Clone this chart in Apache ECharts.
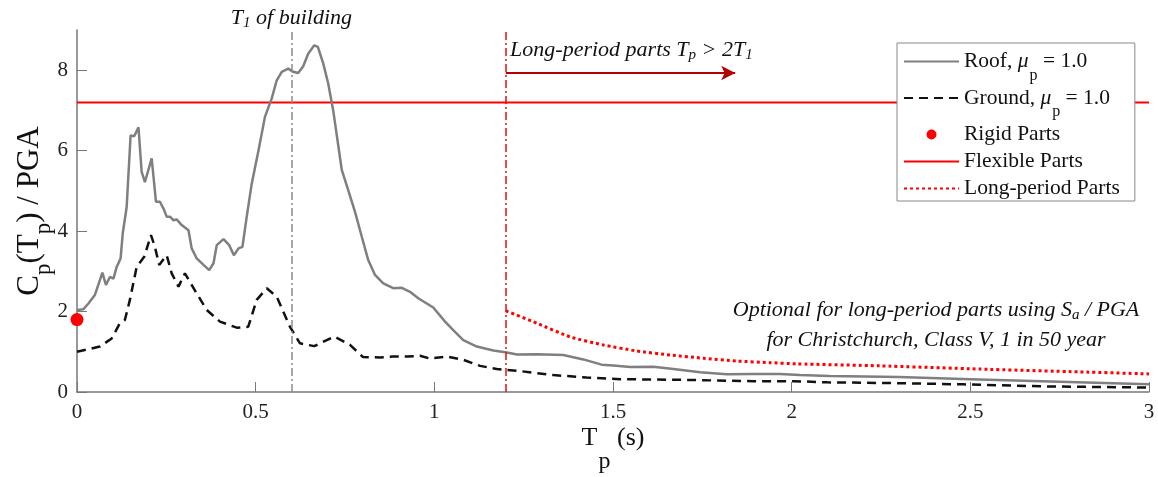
<!DOCTYPE html>
<html>
<head>
<meta charset="utf-8">
<script src="https://cdn.jsdelivr.net/npm/echarts@6/dist/echarts.min.js"></script>
<style>
  html, body { margin: 0; padding: 0; background: #fff; }
  #chart { width: 1158px; height: 477px; }
</style>
</head>
<body>
<div id="chart"></div>
<script>
// Part spectral coefficient C_p(T_p)/PGA versus part period T_p (s)

const roofT = [0, 0.018, 0.032, 0.05, 0.071, 0.081, 0.092, 0.102, 0.111, 0.122, 0.128, 0.139,
  0.150, 0.160, 0.172, 0.181, 0.190, 0.209, 0.221, 0.232, 0.242, 0.251, 0.26, 0.27, 0.279,
  0.293, 0.312, 0.321, 0.335, 0.354, 0.370, 0.382, 0.391, 0.41, 0.426, 0.439, 0.452, 0.463,
  0.475, 0.489, 0.508, 0.526, 0.545, 0.559, 0.573, 0.591, 0.605, 0.619, 0.633, 0.647, 0.664,
  0.674, 0.689, 0.703, 0.717, 0.729, 0.741, 0.759, 0.778, 0.797, 0.815, 0.834, 0.857, 0.885,
  0.909, 0.932, 0.955, 0.997, 1.03, 1.053, 1.081, 1.119, 1.165, 1.203, 1.231, 1.287, 1.361,
  1.417, 1.468, 1.501, 1.548, 1.613, 1.669, 1.744, 1.818, 1.893, 1.967, 2.023, 2.107, 2.3,
  2.5, 2.7, 2.85, 3.0];
const roofC = [2.04, 2.06, 2.2, 2.41, 2.97, 2.66, 2.86, 2.82, 3.11, 3.32, 3.94, 4.6,
  6.38, 6.36, 6.58, 5.47, 5.22, 5.81, 4.73, 4.73, 4.56, 4.36, 4.36, 4.27, 4.29,
  4.15, 4.02, 3.57, 3.32, 3.16, 3.03, 3.2, 3.65, 3.8, 3.65, 3.4, 3.57, 3.61,
  4.36, 5.18, 6.01, 6.84, 7.3, 7.75, 7.96, 8.04, 7.96, 7.93, 8.1, 8.41, 8.62,
  8.58, 8.17, 7.67, 7.0, 6.26, 5.52, 5.02, 4.48, 3.86, 3.28, 2.91, 2.7, 2.58,
  2.59, 2.49, 2.33, 2.1, 1.75, 1.54, 1.29, 1.13, 1.03, 0.98, 0.93, 0.94, 0.92,
  0.81, 0.68, 0.66, 0.62, 0.63, 0.57, 0.49, 0.44, 0.45, 0.45, 0.42, 0.4, 0.37,
  0.32, 0.27, 0.23, 0.19];

const groundT = [0, 0.064, 0.097, 0.12, 0.134, 0.148, 0.167, 0.188, 0.207, 0.218, 0.23, 0.251,
  0.265, 0.284, 0.302, 0.316, 0.335, 0.363, 0.40, 0.447, 0.479, 0.503, 0.531, 0.559, 0.596,
  0.624, 0.664, 0.72, 0.764, 0.8, 0.848, 0.885, 0.923, 0.96, 0.988, 1.035, 1.081, 1.128,
  1.175, 1.24, 1.333, 1.426, 1.52, 1.706, 1.893, 2.005, 2.1, 2.3, 2.48, 2.7, 3.0];
const groundC = [1.0, 1.13, 1.33, 1.71, 1.79, 2.29, 3.11, 3.36, 3.9, 3.61, 3.16, 3.4,
  2.95, 2.62, 2.95, 2.74, 2.45, 2.04, 1.75, 1.6, 1.62, 2.29, 2.58, 2.37, 1.62,
  1.21, 1.14, 1.38, 1.17, 0.87, 0.86, 0.88, 0.88, 0.9, 0.83, 0.88, 0.8, 0.65,
  0.57, 0.52, 0.42, 0.36, 0.32, 0.3, 0.27, 0.27, 0.24, 0.22, 0.19, 0.14, 0.11];

const longT = [1.2, 1.287, 1.38, 1.473, 1.566, 1.66, 1.753, 1.846, 1.94, 2.014, 2.247, 2.527, 2.807, 3.0];
const longC = [2.02, 1.71, 1.37, 1.17, 1.02, 0.92, 0.84, 0.77, 0.73, 0.70, 0.65, 0.57, 0.5, 0.45];

const rigidT = [0];
const rigidC = [1.8];
const flexibleT = [0, 3];
const flexibleC = [7.2, 7.2];

const buildingT1 = 0.6;          // fundamental period of the building
const longPeriodStart = 1.2;     // 2 T1
const arrowEndT = 1.842;
const arrowC = 7.93;

const xTicks = [0, 0.5, 1, 1.5, 2, 2.5, 3];
const yTicks = [0, 2, 4, 6, 8];

const SERIF = "'Liberation Serif', 'Times New Roman', serif";
const zip = (a, b) => a.map((v, i) => [v, b[i]]);

const chart = echarts.init(document.getElementById('chart'), null, { renderer: 'canvas' });

const legendLabels = {
  'Roof': '{n|Roof, }{m|\u03bc}{s|p}{n| = 1.0}',
  'Ground': '{n|Ground, }{m|\u03bc}{s|p}{n| = 1.0}'
};

chart.setOption({
  animation: false,
  backgroundColor: '#fff',
  grid: { left: 77, right: 9, top: 30, bottom: 85, containLabel: false, outerBoundsMode: 'none' },
  xAxis: {
    type: 'value', min: 0, max: 3, interval: 0.5,
    name: '{b|T}{s|p}{b| (s)}',
    nameLocation: 'middle', nameGap: 10, nameMoveOverlap: false,
    nameTextStyle: {
      rich: {
        b: { fontFamily: SERIF, fontSize: 26, color: '#111' },
        s: { fontFamily: SERIF, fontSize: 24, color: '#111', padding: [48, 0, 0, 1] }
      }
    },
    axisLine: { lineStyle: { color: '#777', width: 1.5 } },
    axisTick: { inside: true, length: 10, lineStyle: { color: '#777', width: 1 }, customValues: xTicks },
    axisLabel: { customValues: xTicks, margin: 10, fontFamily: SERIF, fontSize: 21, color: '#222' },
    splitLine: { show: false }
  },
  yAxis: {
    type: 'value', min: 0, max: 9, interval: 2,
    name: '{b|C}{s|p}{b|(T}{s|p}{b|) / PGA}',
    nameLocation: 'middle', nameGap: 22, nameMoveOverlap: false,
    nameTextStyle: {
      rich: {
        b: { fontFamily: SERIF, fontSize: 31, color: '#111' },
        s: { fontFamily: SERIF, fontSize: 23, color: '#111', padding: [28, 0, 0, 0] }
      }
    },
    axisLine: { show: true, lineStyle: { color: '#777', width: 1.5 } },
    axisTick: { show: true, inside: true, length: 10, lineStyle: { color: '#777', width: 1 }, customValues: yTicks },
    axisLabel: { customValues: yTicks, margin: 9, fontFamily: SERIF, fontSize: 21, color: '#222' },
    splitLine: { show: false }
  },
  legend: {
    orient: 'vertical',
    left: 897, top: 43,
    padding: [6, 15, 0, 6],
    itemWidth: 55, itemHeight: 10, itemGap: 2,
    selectedMode: false,
    backgroundColor: '#fff',
    borderColor: '#888', borderWidth: 1, borderRadius: 0,
    data: [
      { name: 'Roof', itemStyle: { opacity: 0 } },
      { name: 'Ground', itemStyle: { opacity: 0 } },
      { name: 'Rigid Parts', icon: 'circle' },
      { name: 'Flexible Parts', itemStyle: { opacity: 0 } },
      { name: 'Long-period Parts', itemStyle: { opacity: 0 } }
    ],
    formatter: name => legendLabels[name] || name,
    textStyle: {
      fontFamily: SERIF, fontSize: 21.5, color: '#111', lineHeight: 25,
      rich: {
        n: { fontFamily: SERIF, fontSize: 21.5, color: '#111' },
        m: { fontFamily: SERIF, fontSize: 21.5, fontStyle: 'italic', color: '#111' },
        s: { fontFamily: SERIF, fontSize: 16, color: '#111', padding: [28, 0, 0, 1] }
      }
    },
    z: 10
  },
  series: [
    {
      name: 'Roof', type: 'line', data: zip(roofT, roofC),
      symbol: 'none', color: '#7f7f7f',
      lineStyle: { color: '#7f7f7f', width: 2.5 }, z: 3
    },
    {
      name: 'Ground', type: 'line', data: zip(groundT, groundC),
      symbol: 'none', color: '#111',
      lineStyle: { color: '#111', width: 2.5, type: [9, 6] }, z: 3
    },
    {
      name: 'Rigid Parts', type: 'scatter', data: zip(rigidT, rigidC),
      symbol: 'circle', symbolSize: 13, clip: false,
      itemStyle: { color: '#ff0000', opacity: 1 }, z: 5
    },
    {
      name: 'Flexible Parts', type: 'line', data: zip(flexibleT, flexibleC),
      symbol: 'none', color: '#ff0000',
      lineStyle: { color: '#ff0000', width: 2 }, z: 2
    },
    {
      name: 'Long-period Parts', type: 'line', data: zip(longT, longC),
      symbol: 'none', color: '#ff0000', smooth: 0.2,
      lineStyle: { color: '#ff0000', width: 3, type: [3, 3] }, z: 2
    },
    {
      // period guide lines: T1 of the building and the 2 T1 threshold
      name: 'guides', type: 'line', data: [], silent: true,
      markLine: {
        silent: true, symbol: 'none', label: { show: false },
        data: [
          { xAxis: buildingT1, lineStyle: { color: '#8a8a8a', width: 1.5, type: [8, 3, 2, 3] } },
          { xAxis: longPeriodStart, lineStyle: { color: '#e01010', width: 1.5, type: [8, 3, 2, 3] } }
        ]
      },
      z: 1
    },
    {
      // arrow marking the long-period range
      name: 'arrow', type: 'line', data: [], silent: true,
      markLine: {
        silent: true, symbol: ['none', 'arrow'], symbolSize: [11, 14],
        label: { show: false },
        lineStyle: { color: '#b30000', width: 2, type: 'solid' },
        data: [[{ coord: [longPeriodStart, arrowC] }, { coord: [arrowEndT, arrowC] }]]
      },
      z: 4
    }
  ]
});

// Text notes anchored to data coordinates
const notes = [
  { at: [buildingT1, 9.3], align: 'center',
    text: '{i|T}{s|1}{i| of building}' },
  { at: [1.212, 8.5], align: 'left',
    text: '{i|Long-period parts T}{s|p}{i| > 2T}{s|1}' },
  { at: [2.404, 2.04], align: 'center',
    text: '{i|Optional for long-period parts using S}{s|a}{i| / PGA}' },
  { at: [2.404, 1.29], align: 'center',
    text: '{i|for Christchurch, Class V, 1 in 50 year}' }
];
const noteRich = {
  i: { fontFamily: SERIF, fontSize: 22, fontStyle: 'italic', fill: '#111', color: '#111' },
  s: { fontFamily: SERIF, fontSize: 15, fontStyle: 'italic', fill: '#111', color: '#111', padding: [10, 0, 0, 0] }
};
chart.setOption({
  graphic: notes.map(n => {
    const p = chart.convertToPixel({ gridIndex: 0 }, n.at);
    return {
      type: 'text', x: p[0], y: p[1], z: 20, silent: true,
      style: { text: n.text, rich: noteRich, align: n.align, verticalAlign: 'middle' }
    };
  })
});
</script>
</body>
</html>
